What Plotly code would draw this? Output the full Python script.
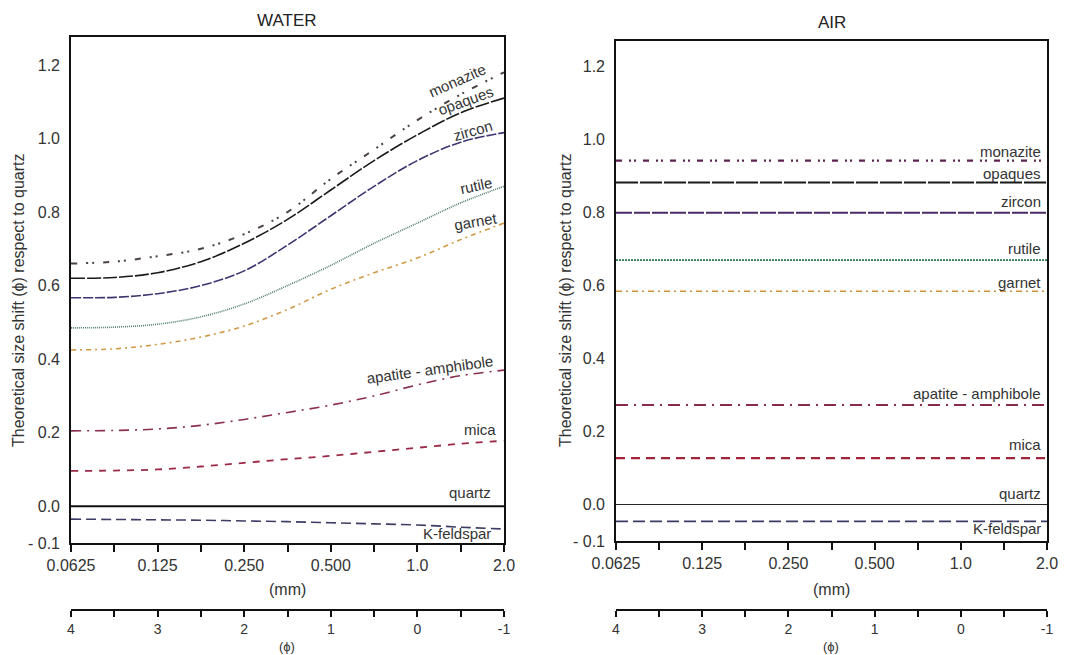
import math
import plotly.graph_objects as go

# ---------------- data ----------------
phi = [4, 3.5, 3, 2.5, 2, 1.5, 1, 0.5, 0, -0.5, -1]
size_mm = [2 ** (-p) for p in phi]

water = {
    "monazite":           [0.66, 0.665, 0.68, 0.70, 0.74, 0.80, 0.89, 0.97, 1.05, 1.12, 1.18],
    "opaques":            [0.62, 0.622, 0.635, 0.665, 0.715, 0.78, 0.86, 0.94, 1.01, 1.07, 1.11],
    "zircon":             [0.567, 0.568, 0.578, 0.60, 0.64, 0.71, 0.79, 0.87, 0.94, 0.99, 1.016],
    "rutile":             [0.485, 0.487, 0.495, 0.515, 0.55, 0.60, 0.655, 0.715, 0.77, 0.825, 0.87],
    "garnet":             [0.425, 0.428, 0.44, 0.46, 0.49, 0.535, 0.59, 0.635, 0.675, 0.725, 0.77],
    "apatite - amphibole":[0.205, 0.206, 0.21, 0.22, 0.236, 0.255, 0.275, 0.30, 0.33, 0.355, 0.37],
    "mica":               [0.096, 0.097, 0.10, 0.108, 0.118, 0.128, 0.137, 0.148, 0.159, 0.17, 0.178],
    "quartz":             [0, 0, 0, 0, 0, 0, 0, 0, 0, 0, 0],
    "K-feldspar":         [-0.035, -0.036, -0.037, -0.038, -0.04, -0.042, -0.045, -0.048, -0.051, -0.057, -0.062],
}
air_const = {
    "monazite": 0.943,
    "opaques": 0.883,
    "zircon": 0.80,
    "rutile": 0.67,
    "garnet": 0.585,
    "apatite - amphibole": 0.273,
    "mica": 0.127,
    "quartz": 0.0,
    "K-feldspar": -0.046,
}
mm_ticks = [0.0625, 0.125, 0.25, 0.5, 1.0, 2.0]
mm_ticktext = ["0.0625", "0.125", "0.250", "0.500", "1.0", "2.0"]
mm_minor = [0.0884, 0.1768, 0.3536, 0.7071, 1.4142]
phi_ticks = [4, 3, 2, 1, 0, -1]
phi_minor = [3.5, 2.5, 1.5, 0.5, -0.5]
y_ticks = [-0.1, 0.0, 0.2, 0.4, 0.6, 0.8, 1.0, 1.2]
y_ticktext = ["- 0.1", "0.0", "0.2", "0.4", "0.6", "0.8", "1.0", "1.2"]

# ---------------- styles ----------------
style_water = {
    "monazite": dict(color="#4a4048", width=2, dash="6px,9px,2px,4px,2px,9px"),
    "opaques": dict(color="#1a1a1a", width=1.6, dash="14px,2px"),
    "zircon": dict(color="#3e3470", width=1.6, dash="10px,2px"),
    "rutile": dict(color="#4f7f68", width=1.6, dash="1px,1px"),
    "garnet": dict(color="#d09a45", width=1.6, dash="5px,4px,2px,4px"),
    "apatite - amphibole": dict(color="#8a3050", width=1.6, dash="10px,6px,2px,6px"),
    "mica": dict(color="#9a2a45", width=1.8, dash="7px,7px"),
    "quartz": dict(color="#111111", width=2.2, dash="solid"),
    "K-feldspar": dict(color="#3c3c64", width=1.6, dash="10px,5px"),
}
style_air = {
    "monazite": dict(color="#5a2350", width=2.2, dash="6px,7px,2px,3px,2px,7px"),
    "opaques": dict(color="#1a1a1a", width=2, dash="22px,2px"),
    "zircon": dict(color="#4a2a68", width=2, dash="16px,2px"),
    "rutile": dict(color="#2f7a55", width=1.8, dash="2px,1px"),
    "garnet": dict(color="#c8923a", width=1.6, dash="6px,4px,2px,4px"),
    "apatite - amphibole": dict(color="#8c2a4e", width=2, dash="12px,6px,2px,6px"),
    "mica": dict(color="#a02538", width=2.2, dash="9px,6px"),
    "quartz": dict(color="#222222", width=1, dash="solid"),
    "K-feldspar": dict(color="#3c3c64", width=1.8, dash="12px,5px"),
}

fig = go.Figure()
for name, vals in water.items():
    fig.add_trace(go.Scatter(x=size_mm, y=vals, mode="lines", name=name,
                             line=dict(shape="spline", **style_water[name]),
                             xaxis="x", yaxis="y", showlegend=False, hoverinfo="skip"))
for name, v in air_const.items():
    fig.add_trace(go.Scatter(x=[mm_ticks[0], mm_ticks[-1]], y=[v, v], mode="lines", name=name,
                             line=style_air[name], xaxis="x2", yaxis="y2",
                             showlegend=False, hoverinfo="skip"))
# invisible traces to carry the phi axes
fig.add_trace(go.Scatter(x=[4, -1], y=[0, 0], mode="markers", marker=dict(opacity=0),
                         xaxis="x3", yaxis="y", showlegend=False, hoverinfo="skip"))
fig.add_trace(go.Scatter(x=[4, -1], y=[0, 0], mode="markers", marker=dict(opacity=0),
                         xaxis="x4", yaxis="y2", showlegend=False, hoverinfo="skip"))

# page has an 8px body margin: figure is drawn offset by it
OFF = 8
W, H = 1077 - OFF, 655 - OFF
def px(x):
    return (x - OFF) / W
def py(y):
    return 1 - (y - OFF) / H

FAM = "Liberation Sans, Arial, sans-serif"
font = dict(family=FAM, size=16, color="#333333")
xrange = [math.log10(0.0625), math.log10(2.0)]

def xaxis_mm(domain, anchor):
    return dict(type="log", range=xrange, domain=domain, anchor=anchor, automargin=False,
                tickvals=mm_ticks, ticktext=mm_ticktext, ticks="outside", ticklen=7,
                tickwidth=1.5, tickcolor="#111", showline=True, linecolor="#111",
                linewidth=1.6, mirror=True, showgrid=False, zeroline=False,
                tickfont=font,
                minor=dict(tickvals=mm_minor, ticks="outside", ticklen=7,
                           tickwidth=1.5, tickcolor="#111", showgrid=False))

def xaxis_phi(domain, overlay, pos):
    return dict(range=[4, -1], domain=domain, overlaying=overlay, anchor="free",
                position=pos, side="bottom", automargin=False, tickvals=phi_ticks,
                ticktext=[str(t) for t in phi_ticks], ticks="outside", ticklen=6,
                tickwidth=1.5, tickcolor="#111", showline=True, linecolor="#111",
                linewidth=1.6, showgrid=False, zeroline=False,
                tickfont=dict(family=FAM, size=14, color="#333"),
                minor=dict(tickvals=phi_minor, ticks="outside", ticklen=6,
                           tickwidth=1.5, tickcolor="#111", showgrid=False))

def yaxis(domain, anchor, top):
    return dict(range=[-0.1, top], domain=domain, anchor=anchor, automargin=False,
                tickvals=y_ticks, ticktext=y_ticktext, ticks="", showline=True,
                ticklabelstandoff=6,
                linecolor="#111", linewidth=1.6, mirror=True, showgrid=False,
                zeroline=False, tickfont=font)

dx1 = [px(71), px(504)]
dx2 = [px(616), px(1047)]
fig.update_layout(
    width=W, height=H, margin=dict(l=0, r=0, t=0, b=0, autoexpand=False),
    plot_bgcolor="white", paper_bgcolor="white", font=font,
    xaxis=xaxis_mm(dx1, "y"),
    yaxis=yaxis([py(543), py(37)], "x", 1.276),
    xaxis2=xaxis_mm(dx2, "y2"),
    yaxis2=yaxis([py(541), py(41)], "x2", 1.271),
    xaxis3=xaxis_phi(dx1, "x", py(610)),
    xaxis4=xaxis_phi(dx2, "x2", py(610)),
)

ann = []
def A(text, x, y, size=15, angle=0, xanchor="center", color="#333333"):
    ann.append(dict(text=text, x=px(x), y=py(y), xref="paper", yref="paper",
                    showarrow=False, textangle=angle, xanchor=xanchor, yanchor="middle",
                    font=dict(family=FAM, size=size, color=color)))

A("WATER", 287, 20, size=17, color="#222")
A("AIR", 832, 23, size=17, color="#222")
ytitle = "Theoretical size shift (\u03d5) respect to quartz"
A(ytitle, 18, 300, size=16, angle=-90)
A(ytitle, 565, 300, size=16, angle=-90)
for cx in (287, 831):
    A("(mm)", cx, 589, size=16)
    A("(\u03d5)", cx, 646, size=13)

# water labels
A("monazite", 457, 81, angle=-24)
A("opaques", 466, 101, angle=-20)
A("zircon", 473, 131, angle=-16)
A("rutile", 476, 186, angle=-12)
A("garnet", 475, 221, angle=-10)
A("apatite - amphibole", 430, 369, angle=-8)
A("mica", 480, 429)
A("quartz", 470, 492)
A("K-feldspar", 457, 533)
# air labels (right aligned)
for t, yy in [("monazite", 152), ("opaques", 173), ("zircon", 201), ("rutile", 248),
              ("garnet", 282), ("apatite - amphibole", 393), ("mica", 444),
              ("quartz", 494), ("K-feldspar", 528)]:
    A(t, 1043, yy, xanchor="right")

fig.update_layout(annotations=ann)
fig.write_html("out.html")
